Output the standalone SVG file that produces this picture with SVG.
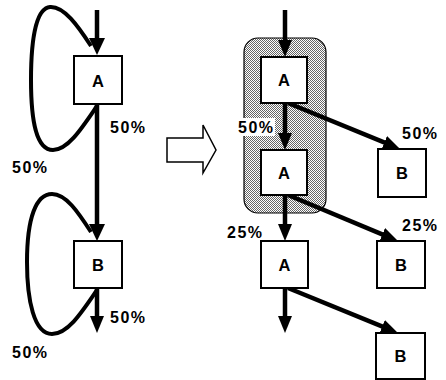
<svg xmlns="http://www.w3.org/2000/svg" width="446" height="380" viewBox="0 0 446 380">
<style>
.box{fill:#fff;stroke:#000;stroke-width:2}
.lt{font-family:"Liberation Sans",Arial,sans-serif;font-weight:bold;font-size:16.5px;fill:#000;text-anchor:middle}
.lbl{font-family:"Liberation Sans",Arial,sans-serif;font-weight:bold;font-size:16px;fill:#000}
.c{fill:none;stroke:#000;stroke-width:4.5;stroke-linecap:butt}
.cr{fill:none;stroke:#000;stroke-width:4}
</style>
<defs>
<pattern id="dots" width="2" height="2" patternUnits="userSpaceOnUse">
<rect width="2" height="2" fill="#fff"/>
<rect width="1" height="1" fill="#666"/>
<rect x="1" y="1" width="1" height="1" fill="#666"/>
</pattern>
<marker id="ah" markerUnits="userSpaceOnUse" markerWidth="18" markerHeight="18" viewBox="0 0 18 18" refX="7" refY="9" orient="auto">
<path d="M0,1 L17,9 L0,17 z" fill="#000"/>
</marker>
<marker id="ahs" markerUnits="userSpaceOnUse" markerWidth="18" markerHeight="16" viewBox="0 0 18 16" refX="7" refY="8" orient="auto">
<path d="M0,1 L17,8 L0,15 z" fill="#000"/>
</marker>
</defs>

<rect id="shade" x="244" y="38" width="82" height="175" rx="14" fill="url(#dots)" stroke="#000" stroke-width="1.2"/>

<g id="connectors">
<!-- left side -->
<line class="c" x1="97" y1="10" x2="97" y2="45" marker-end="url(#ah)"/>
<line class="c" x1="97" y1="104" x2="97" y2="231" marker-end="url(#ah)"/>
<line class="c" x1="97" y1="288" x2="97" y2="323" marker-end="url(#ahs)"/>
<path class="cr" d="M97,106 C82,128 68,150 53,150 C36,150 31,120 31,80 C31,35 37,8 50,7 C64,6 78,26 91,46"/>
<path class="cr" d="M97,290 C82,312 68,334 52,334 C34,334 27,300 27,262 C27,218 36,194 52,194 C66,194 78,212 91,232"/>
<!-- hollow transform arrow -->
<polygon points="167,138 203,138 203,125 216,150 203,173 203,162 167,162" fill="#fff" stroke="#000" stroke-width="1.5"/>
<!-- right side -->
<line class="c" x1="285" y1="10" x2="285" y2="47" marker-end="url(#ahs)"/>
<line class="c" x1="285" y1="103" x2="285" y2="140" marker-end="url(#ahs)"/>
<line class="c" x1="285" y1="195" x2="285" y2="231" marker-end="url(#ahs)"/>
<line class="c" x1="285" y1="288" x2="285" y2="323" marker-end="url(#ahs)"/>
<line class="c" x1="288" y1="103" x2="390.8" y2="145.2" marker-end="url(#ahs)"/>
<line class="c" x1="288" y1="195" x2="388.8" y2="237.1" marker-end="url(#ahs)"/>
<line class="c" x1="288" y1="288" x2="388.7" y2="329.2" marker-end="url(#ahs)"/>
</g>

<g id="nodeA_left"><rect class="box" x="74" y="56" width="48" height="48"/><text class="lt" x="98" y="86.5">A</text></g>
<g id="nodeB_left"><rect class="box" x="74" y="241" width="48" height="47"/><text class="lt" x="98" y="270.5">B</text></g>

<g id="nodeA1"><rect class="box" x="261" y="57" width="46" height="46"/><text class="lt" x="284" y="86">A</text></g>
<g id="nodeA2"><rect class="box" x="261" y="150" width="46" height="45"/><text class="lt" x="284" y="178.5">A</text></g>
<g id="nodeA3"><rect class="box" x="261" y="241" width="47" height="47"/><text class="lt" x="284.5" y="270.5">A</text></g>
<g id="nodeB1"><rect class="box" x="378" y="149" width="48" height="48"/><text class="lt" x="402" y="179">B</text></g>
<g id="nodeB2"><rect class="box" x="377" y="241" width="48" height="47"/><text class="lt" x="401" y="270.5">B</text></g>
<g id="nodeB3"><rect class="box" x="376" y="333" width="49" height="46"/><text class="lt" x="400.5" y="362">B</text></g>

<g id="labels">
<text class="lbl" x="110" y="133" textLength="35" lengthAdjust="spacing">50%</text>
<text class="lbl" x="12" y="173" textLength="35" lengthAdjust="spacing">50%</text>
<text class="lbl" x="110" y="323" textLength="35" lengthAdjust="spacing">50%</text>
<text class="lbl" x="12" y="358" textLength="35" lengthAdjust="spacing">50%</text>
<rect x="236" y="118" width="39" height="18" fill="#fff"/>
<text class="lbl" x="238" y="133" textLength="35" lengthAdjust="spacing">50%</text>
<text class="lbl" x="402" y="139" textLength="35" lengthAdjust="spacing">50%</text>
<text class="lbl" x="227" y="238" textLength="35" lengthAdjust="spacing">25%</text>
<text class="lbl" x="402" y="231" textLength="35" lengthAdjust="spacing">25%</text>
</g>
</svg>
